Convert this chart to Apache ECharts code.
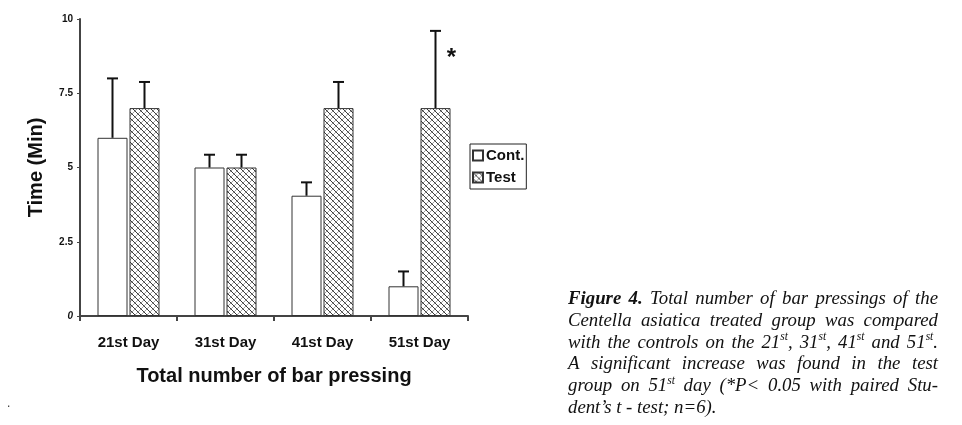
<!DOCTYPE html>
<html>
<head>
<meta charset="utf-8">
<script src="https://cdn.jsdelivr.net/npm/echarts@6/dist/echarts.min.js"></script>
<style>
  html, body { margin: 0; background: #fff; }
  #chart { width: 962px; height: 425px; }
</style>
</head>
<body>
<div id="chart"></div>
<script>
// data
const categories = ['21st Day', '31st Day', '41st Day', '51st Day'];
const contValues = [6, 5, 4.05, 1];
const contErrTop = [8, 5.43, 4.5, 1.5];
const testValues = [7, 5, 7, 7];
const testErrTop = [7.88, 5.43, 7.88, 9.6];
const testSignificant = [false, false, false, true];
const legendNames = ['Cont.', 'Test'];
const captionLines = [
  'Figure 4. Total number of bar pressings of the',
  'Centella asiatica treated group was compared',
  'with the controls on the 21^st, 31^st, 41^st and 51^st.',
  'A significant increase was found in the test',
  'group on 51^st day (*P< 0.05 with paired Stu-',
  'dent\u2019s t - test; n=6).'
];

const SANS = 'Liberation Sans';
const SERIF = 'Liberation Serif';
const BAR_W = 30;
const BAR_GAP = 2;

// hatch fill for the Test bars
function makeHatch() {
  const c = document.createElement('canvas');
  c.width = 6; c.height = 6;
  const g = c.getContext('2d');
  g.fillStyle = '#fff';
  g.fillRect(0, 0, 6, 6);
  g.lineWidth = 1;
  g.strokeStyle = '#a0a0a0';
  g.beginPath();
  g.moveTo(0, 6); g.lineTo(6, 0);
  g.stroke();
  g.strokeStyle = '#3a3a3a';
  g.beginPath();
  g.moveTo(0, 0); g.lineTo(6, 6);
  g.stroke();
  return { image: c, repeat: 'repeat' };
}

function errorRenderer(offset, sigFlags) {
  return function (params, api) {
    const base = api.coord([api.value(0), api.value(1)]);
    const top = api.coord([api.value(0), api.value(2)]);
    const cx = base[0] + offset;
    const st = { stroke: '#111', lineWidth: 2 };
    const kids = [
      { type: 'line', shape: { x1: cx, y1: base[1], x2: cx, y2: top[1] }, style: st },
      { type: 'line', shape: { x1: cx - 5.5, y1: top[1], x2: cx + 5.5, y2: top[1] }, style: st }
    ];
    if (sigFlags && sigFlags[params.dataIndex]) {
      kids.push({
        type: 'text', x: cx + 16, y: top[1] + 27,
        style: { text: '*', font: 'bold 24px ' + SANS, fill: '#111', align: 'center', verticalAlign: 'middle' }
      });
    }
    return { type: 'group', children: kids };
  };
}

// caption, justified word by word
function buildCaption() {
  const left = 568, right = 938, firstBase = 305.7, step = 21.7, size = 18.8, supSize = 11.5;
  const ctx = document.createElement('canvas').getContext('2d');
  const fontOf = (bold, sz) => 'italic ' + (bold ? 'bold ' : '') + sz + 'px ' + SERIF;
  const els = [];
  captionLines.forEach((line, li) => {
    const words = line.split(' ').map((w, wi) => {
      const bold = li === 0 && wi < 2;
      const segs = w.split(/(\^[a-z]+)/).filter(s => s).map(s => {
        const sup = s[0] === '^';
        const t = sup ? s.slice(1) : s;
        ctx.font = fontOf(bold, sup ? supSize : size);
        return { t, sup, bold, w: ctx.measureText(t).width };
      });
      return { segs, w: segs.reduce((a, s) => a + s.w, 0) };
    });
    const total = words.reduce((a, w) => a + w.w, 0);
    const last = li === captionLines.length - 1;
    ctx.font = fontOf(false, size);
    const gap = last ? ctx.measureText(' ').width : (right - left - total) / (words.length - 1);
    const yMid = firstBase + li * step - 0.34 * size;
    let x = left;
    words.forEach(w => {
      w.segs.forEach(s => {
        els.push({
          type: 'text', x: x, y: s.sup ? yMid - 5.5 : yMid,
          style: {
            text: s.t, fill: '#111', verticalAlign: 'middle',
            fontStyle: 'italic', fontWeight: s.bold ? 'bold' : 'normal',
            fontSize: s.sup ? supSize : size, fontFamily: SERIF
          }
        });
        x += s.w;
      });
      x += gap;
    });
  });
  els.push({ type: 'text', x: 7, y: 398, style: { text: '.', fill: '#333', fontSize: 12, fontFamily: SANS } });
  return els;
}

const chart = echarts.init(document.getElementById('chart'), null, { renderer: 'canvas' });
const hatch = makeHatch();
const offset = (BAR_W + BAR_GAP) / 2;

chart.setOption({
  animation: false,
  backgroundColor: '#fff',
  grid: { left: 80, right: 494, top: 19, bottom: 109 },
  legend: {
    data: legendNames,
    orient: 'vertical',
    left: 470, top: 144,
    padding: [4, 2, 4, 2],
    itemGap: 7,
    itemWidth: 10, itemHeight: 10,
    icon: 'rect',
    borderColor: '#222', borderWidth: 1,
    textStyle: { fontFamily: SANS, fontWeight: 'bold', fontSize: 15, color: '#111', padding: [0, 0, 0, -2] }
  },
  xAxis: {
    type: 'category',
    data: categories,
    name: 'Total number of bar pressing',
    nameLocation: 'middle',
    nameGap: 50,
    nameTextStyle: { fontFamily: SANS, fontWeight: 'bold', fontSize: 20, color: '#111' },
    axisLine: { lineStyle: { color: '#444', width: 2 } },
    axisTick: { show: true, length: 5, lineStyle: { color: '#444', width: 2 } },
    axisLabel: { margin: 19, fontFamily: SANS, fontWeight: 'bold', fontSize: 15, color: '#111' }
  },
  yAxis: {
    type: 'value',
    min: 0, max: 10, interval: 2.5,
    name: 'Time (Min)',
    nameLocation: 'middle',
    nameGap: 34,
    nameTextStyle: { fontFamily: SANS, fontWeight: 'bold', fontSize: 20, color: '#111' },
    splitLine: { show: false },
    axisLine: { show: true, lineStyle: { color: '#444', width: 2 } },
    axisTick: { show: true, length: 3, lineStyle: { color: '#444', width: 1 } },
    axisLabel: {
      margin: 7,
      fontFamily: SANS, fontWeight: 'bold', fontSize: 10, color: '#111',
      formatter: v => v === 0 ? '{i|0}' : String(v),
      rich: { i: { fontStyle: 'italic', fontWeight: 'bold', fontSize: 10, fontFamily: SANS, color: '#111' } }
    }
  },
  series: [
    {
      name: 'Cont.', type: 'bar', data: contValues,
      barWidth: BAR_W, barGap: (BAR_GAP / BAR_W * 100) + '%',
      itemStyle: { color: '#fff', borderColor: '#333', borderWidth: 1 }
    },
    {
      name: 'Test', type: 'bar', data: testValues,
      barWidth: BAR_W,
      itemStyle: { color: hatch, borderColor: '#333', borderWidth: 1 }
    },
    {
      type: 'custom', z: 5, silent: true,
      data: categories.map((c, i) => [i, contValues[i], contErrTop[i]]),
      renderItem: errorRenderer(-offset, null)
    },
    {
      type: 'custom', z: 5, silent: true,
      data: categories.map((c, i) => [i, testValues[i], testErrTop[i]]),
      renderItem: errorRenderer(offset, testSignificant)
    }
  ],
  graphic: buildCaption()
});
</script>
</body>
</html>
